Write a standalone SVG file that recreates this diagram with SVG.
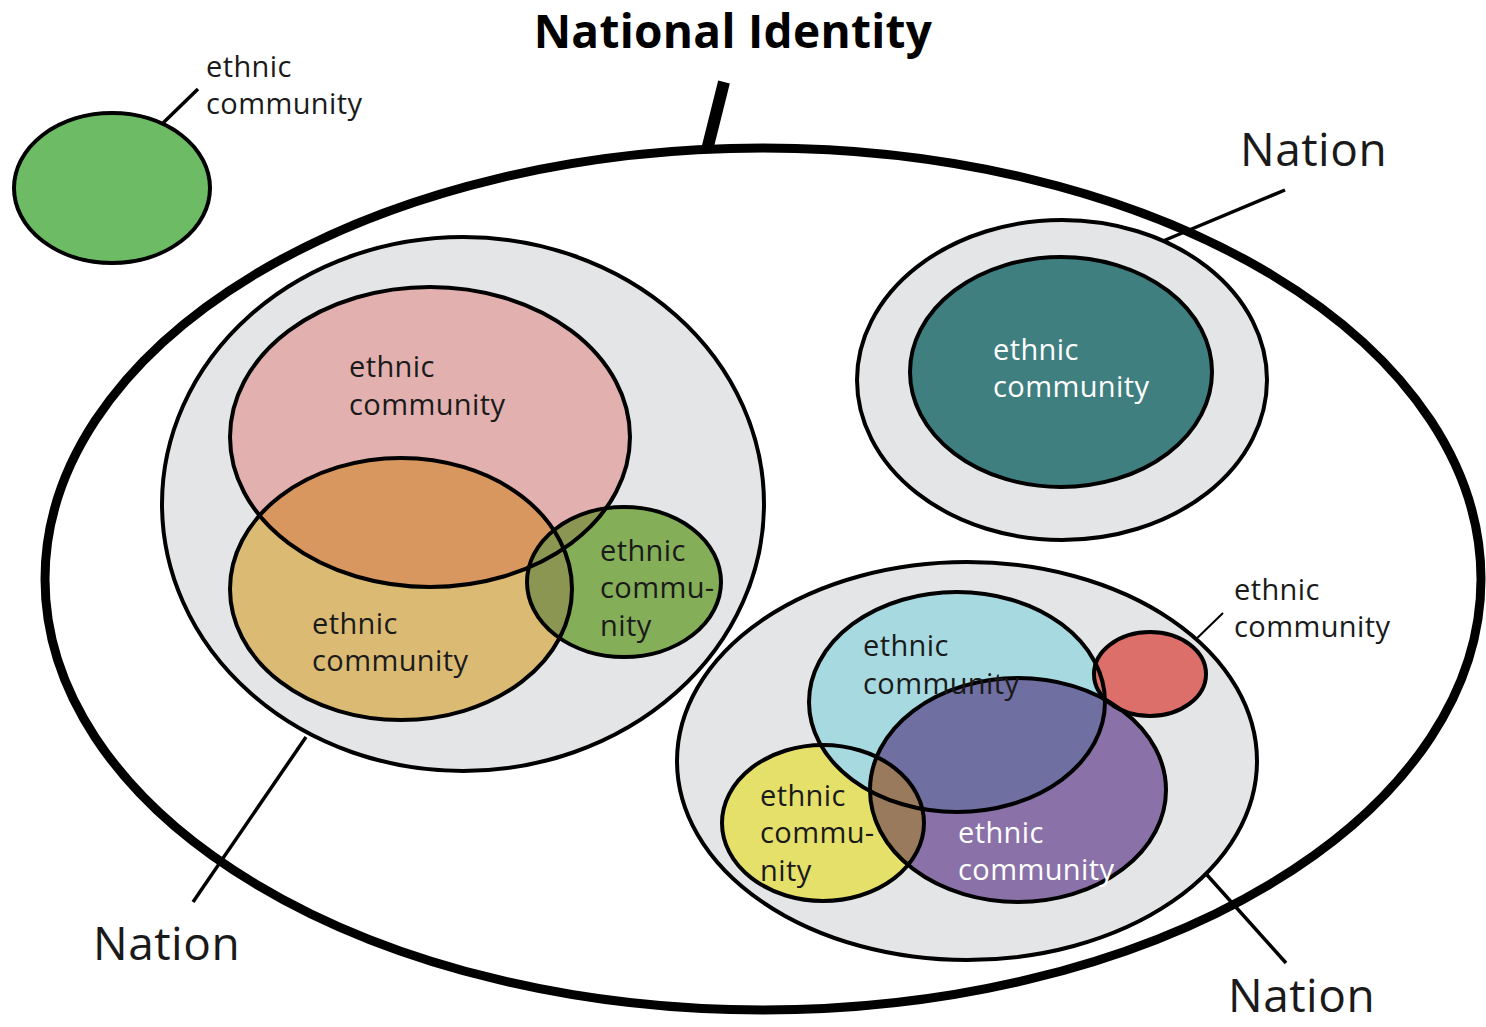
<svg xmlns="http://www.w3.org/2000/svg" width="1486" height="1027" viewBox="0 0 1486 1027">
<style>
text{font-family:"Open Sans","Noto Sans","Liberation Sans",sans-serif;fill:#1a1a1a}
.lbl{font-size:29px;letter-spacing:0.4px}
.nat{font-size:46px;letter-spacing:0.5px}
.w{fill:#ffffff}
.o{fill:none;stroke:#000;stroke-width:4}
.ln{stroke:#000;stroke-width:3.5;fill:none}
.nation{fill:#e4e5e7;stroke:#000;stroke-width:4}
</style>
<defs>
<clipPath id="cPink"><ellipse cx="430" cy="437" rx="200" ry="150"/></clipPath>
<clipPath id="cTan"><ellipse cx="401" cy="589" rx="171" ry="131"/></clipPath>
<clipPath id="cBlue"><ellipse cx="957" cy="702" rx="148" ry="110"/></clipPath>
<clipPath id="cPurple"><ellipse cx="1018" cy="790" rx="148" ry="112"/></clipPath>
</defs>
<rect width="1486" height="1027" fill="#ffffff"/>

<g id="national-identity">
<ellipse cx="763" cy="579" rx="718" ry="431" fill="#ffffff" stroke="#000" stroke-width="9"/>
<text x="733" y="48" text-anchor="middle" font-size="46" font-weight="bold" letter-spacing="0.3" style="fill:#000">National Identity</text>
</g>

<g id="connectors">
<line x1="707" y1="150" x2="724" y2="82" stroke="#000" stroke-width="12"/>
<line class="ln" x1="163" y1="123" x2="198" y2="89"/>
<line class="ln" x1="1163" y1="241" x2="1285" y2="190"/>
<line class="ln" x1="306" y1="737" x2="193" y2="902"/>
<line class="ln" x1="1199" y1="866" x2="1286" y2="963"/>
<line x1="1190" y1="645" x2="1223" y2="613" stroke="#000" stroke-width="2"/>
</g>

<g id="lone-community">
<ellipse cx="112" cy="188" rx="98" ry="75" class="o" style="fill:#6dbb65"/>
<text class="lbl" x="206" y="77">ethnic</text>
<text class="lbl" x="206" y="114">community</text>
</g>

<g id="nation-left">
<ellipse class="nation" cx="463" cy="504" rx="301" ry="267"/>
<ellipse cx="430" cy="437" rx="200" ry="150" fill="#e2b0ae"/>
<ellipse cx="401" cy="589" rx="171" ry="131" fill="#dbbb74"/>
<ellipse cx="624" cy="582" rx="97" ry="75" fill="#84ae58"/>
<ellipse cx="401" cy="589" rx="171" ry="131" fill="#d99760" clip-path="url(#cPink)"/>
<g clip-path="url(#cPink)"><ellipse cx="624" cy="582" rx="97" ry="75" fill="#8b9652"/></g>
<g clip-path="url(#cTan)"><ellipse cx="624" cy="582" rx="97" ry="75" fill="#8b9652"/></g>
<ellipse class="o" cx="430" cy="437" rx="200" ry="150"/>
<ellipse class="o" cx="401" cy="589" rx="171" ry="131"/>
<ellipse class="o" cx="624" cy="582" rx="97" ry="75"/>
<text class="lbl" x="349" y="377">ethnic</text>
<text class="lbl" x="349" y="415">community</text>
<text class="lbl" x="312" y="634">ethnic</text>
<text class="lbl" x="312" y="671">community</text>
<text class="lbl" x="600" y="561">ethnic</text>
<text class="lbl" x="600" y="598">commu-</text>
<text class="lbl" x="600" y="636">nity</text>
<text class="nat" x="93" y="960">Nation</text>
</g>

<g id="nation-top-right">
<ellipse class="nation" cx="1062" cy="380" rx="205" ry="160"/>
<ellipse cx="1061" cy="372" rx="151" ry="115" class="o" style="fill:#3f7f80"/>
<text class="lbl w" x="993" y="360">ethnic</text>
<text class="lbl w" x="993" y="397">community</text>
<text class="nat" x="1240" y="166">Nation</text>
</g>

<g id="nation-bottom-right">
<ellipse class="nation" cx="967" cy="761" rx="290" ry="199"/>
<ellipse cx="823" cy="823" rx="101" ry="78" fill="#e5e06a"/>
<ellipse cx="957" cy="702" rx="148" ry="110" fill="#a7d9e0"/>
<ellipse cx="1018" cy="790" rx="148" ry="112" fill="#8a72a8"/>
<ellipse cx="1018" cy="790" rx="148" ry="112" fill="#6f6fa1" clip-path="url(#cBlue)"/>
<ellipse cx="823" cy="823" rx="101" ry="78" fill="#9a7a5c" clip-path="url(#cPurple)"/>
<ellipse cx="1150" cy="674" rx="56" ry="42" fill="#dc6f6a"/>
<ellipse class="o" cx="823" cy="823" rx="101" ry="78"/>
<ellipse class="o" cx="957" cy="702" rx="148" ry="110"/>
<ellipse class="o" cx="1018" cy="790" rx="148" ry="112"/>
<ellipse class="o" cx="1150" cy="674" rx="56" ry="42"/>
<text class="lbl" x="863" y="656">ethnic</text>
<text class="lbl" x="863" y="694">community</text>
<text class="lbl" x="760" y="806">ethnic</text>
<text class="lbl" x="760" y="843">commu-</text>
<text class="lbl" x="760" y="881">nity</text>
<text class="lbl w" x="958" y="843">ethnic</text>
<text class="lbl w" x="958" y="880">community</text>
<text class="lbl" x="1234" y="600" font-size="28">ethnic</text>
<text class="lbl" x="1234" y="637" font-size="28">community</text>
<text class="nat" x="1228" y="1012">Nation</text>
</g>
</svg>
